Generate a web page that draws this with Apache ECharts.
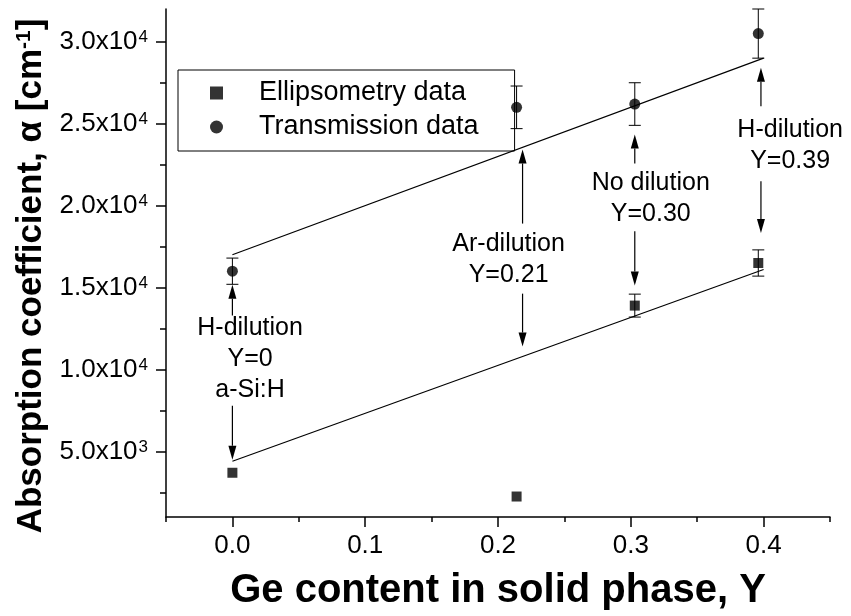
<!DOCTYPE html>
<html>
<head>
<meta charset="utf-8">
<script src="https://cdn.jsdelivr.net/npm/echarts@6/dist/echarts.min.js"></script>
<style>
  html, body { margin: 0; padding: 0; background: #fff; }
  #chart { width: 851px; height: 616px; }
</style>
</head>
<body>
<div id="chart"></div>
<script>
// Ge content Y of each sample
const geContent = [0, 0.214, 0.303, 0.396];
// Ellipsometry absorption coefficient and its error (cm^-1)
const ellipsometry = [3700, 2250, 13900, 16500];
const ellipsometryErr = [0, 0, 700, 800];
// Transmission absorption coefficient and its error (cm^-1)
const transmission = [16000, 26000, 26200, 30500];
const transmissionErr = [800, 1300, 1300, 1500];
// Linear fits (end points)
const fitX = [0, 0.4];
const fitTransmission = [17000, 29000];
const fitEllipsometry = [4400, 16100];
// Axis ticks
const xTickValues = [0, 0.1, 0.2, 0.3, 0.4];
const xMinorTickValues = [-0.05, 0.05, 0.15, 0.25, 0.35, 0.45];
const yTickValues = [5000, 10000, 15000, 20000, 25000, 30000];
const yMinorTickValues = [2500, 7500, 12500, 17500, 22500, 27500];
// Sample notes, anchored in data units
const noteTexts = ['H-dilution\nY=0\na-Si:H', 'Ar-dilution\nY=0.21', 'No dilution\nY=0.30', 'H-dilution\nY=0.39'];
const noteX = [0.0133, 0.208, 0.315, 0.42];
const noteY = [10650, 16700, 20450, 23680];
// Arrows: x, start value, tip value
const arrowX = [0, 0, 0.2185, 0.2185, 0.303, 0.303, 0.398, 0.398];
const arrowFrom = [13290, 7795, 18906, 14630, 22570, 18436, 26067, 21488];
const arrowTo = [15180, 4500, 23430, 11400, 24340, 15126, 28411, 18338];

const FONT = "'Liberation Sans', Arial, Helvetica, sans-serif";

// plot area
const GRID = { left: 166, right: 21, top: 9, bottom: 99 };
const PLOT_W = 851 - GRID.left - GRID.right;
const PLOT_H = 616 - GRID.top - GRID.bottom;

function sciLabel(v) {
  const e = Math.floor(Math.log10(v) + 1e-9);
  const m = (v / Math.pow(10, e)).toFixed(1);
  return '{b|' + m + 'x10}{s|' + e + '}';
}

function errorBars(values, errs) {
  return geContent.map((x, i) => [x, values[i], errs[i]]).filter(d => d[2] > 0);
}

function renderErrorBar(params, api) {
  const x = api.value(0), y = api.value(1), e = api.value(2);
  const top = api.coord([x, y + e]);
  const bot = api.coord([x, y - e]);
  const cap = 6;
  const st = { stroke: '#000', lineWidth: 1 };
  return {
    type: 'group',
    children: [
      { type: 'line', shape: { x1: top[0], y1: top[1], x2: bot[0], y2: bot[1] }, style: st },
      { type: 'line', shape: { x1: top[0] - cap, y1: top[1], x2: top[0] + cap, y2: top[1] }, style: st },
      { type: 'line', shape: { x1: bot[0] - cap, y1: bot[1], x2: bot[0] + cap, y2: bot[1] }, style: st }
    ]
  };
}

function renderArrow(params, api) {
  const x = api.value(0);
  const a = api.coord([x, api.value(1)]);
  const b = api.coord([x, api.value(2)]);
  const dir = b[1] < a[1] ? -1 : 1;
  const headLen = 14, headHalf = 4;
  const baseY = b[1] - dir * headLen;
  return {
    type: 'group',
    children: [
      { type: 'line', shape: { x1: a[0], y1: a[1], x2: b[0], y2: baseY }, style: { stroke: '#000', lineWidth: 1.2 } },
      { type: 'polygon', shape: { points: [[b[0], b[1]], [b[0] - headHalf, baseY], [b[0] + headHalf, baseY]] }, style: { fill: '#000' } }
    ]
  };
}

function renderNote(params, api) {
  const p = api.coord([api.value(0), api.value(1)]);
  return {
    type: 'text',
    x: p[0], y: p[1],
    style: {
      text: noteTexts[params.dataIndex],
      fill: '#000',
      fontSize: 25,
      fontFamily: FONT,
      lineHeight: 31,
      align: 'center',
      verticalAlign: 'middle'
    }
  };
}

const axisLine = { show: true, onZero: false, lineStyle: { color: '#000', width: 1.5 } };
const tickStyle = { color: '#000', width: 1.5 };

const option = {
  animation: false,
  backgroundColor: '#fff',
  grid: GRID,
  legend: {
    orient: 'vertical',
    left: 178, top: 70,
    data: ['Ellipsometry data', 'Transmission data'],
    selectedMode: false,
    borderColor: '#000', borderWidth: 1,
    padding: [6, 36, 7, 32],
    itemGap: 0,
    itemWidth: 13, itemHeight: 13,
    textStyle: { fontSize: 27, lineHeight: 34, fontFamily: FONT, color: '#000', padding: [0, 0, 0, 31] }
  },
  xAxis: [
    {
      type: 'value', min: -0.05, max: 0.45, position: 'bottom',
      axisLine: axisLine,
      splitLine: { show: false },
      axisTick: { show: true, customValues: xTickValues, length: 10, lineStyle: tickStyle },
      axisLabel: { customValues: xTickValues, formatter: v => v.toFixed(1), fontSize: 26, fontFamily: FONT, color: '#000', margin: 16 },
      name: 'Ge content in solid phase, Y',
      nameLocation: 'middle', nameGap: 54,
      nameTextStyle: { fontSize: 40, fontWeight: 'bold', fontFamily: FONT, color: '#000' }
    },
    {
      // minor ticks: a top-side axis moved down onto the bottom edge
      type: 'value', min: -0.05, max: 0.45, position: 'top', offset: -PLOT_H,
      axisLine: { show: false, onZero: false },
      splitLine: { show: false },
      axisTick: { show: true, inside: true, customValues: xMinorTickValues, length: 5, lineStyle: tickStyle },
      axisLabel: { show: false }
    }
  ],
  yAxis: [
    {
      type: 'value', min: 1000, max: 32000, position: 'left',
      axisLine: axisLine,
      splitLine: { show: false },
      axisTick: { show: true, customValues: yTickValues, length: 10, lineStyle: tickStyle },
      axisLabel: {
        customValues: yTickValues, formatter: sciLabel, margin: 18,
        rich: {
          b: { fontSize: 26, fontFamily: FONT, color: '#000' },
          s: { fontSize: 17, fontFamily: FONT, color: '#000', verticalAlign: 'top', padding: [0, 0, 0, 1] }
        }
      },
      name: '{t|Absorption coefficient, α [cm}{s|-1}{t|]}',
      nameLocation: 'middle', nameGap: 98, nameRotate: 90,
      nameTextStyle: {
        padding: [0, 26, 0, 0],
        rich: {
          t: { fontSize: 35, fontWeight: 'bold', fontFamily: FONT, color: '#000' },
          s: { fontSize: 21, fontWeight: 'bold', fontFamily: FONT, color: '#000', verticalAlign: 'top' }
        }
      }
    },
    {
      // minor ticks: a right-side axis moved onto the left edge
      type: 'value', min: 1000, max: 32000, position: 'right', offset: -PLOT_W,
      axisLine: { show: false, onZero: false },
      splitLine: { show: false },
      axisTick: { show: true, inside: true, customValues: yMinorTickValues, length: 6, lineStyle: tickStyle },
      axisLabel: { show: false }
    }
  ],
  series: [
    {
      name: 'fitT', type: 'line', symbol: 'none', silent: true,
      data: fitX.map((x, i) => [x, fitTransmission[i]]),
      lineStyle: { color: '#000', width: 1.2 }, z: 2
    },
    {
      name: 'fitE', type: 'line', symbol: 'none', silent: true,
      data: fitX.map((x, i) => [x, fitEllipsometry[i]]),
      lineStyle: { color: '#000', width: 1.2 }, z: 2
    },
    {
      name: 'errT', type: 'custom', renderItem: renderErrorBar, silent: true,
      data: errorBars(transmission, transmissionErr), z: 3
    },
    {
      name: 'errE', type: 'custom', renderItem: renderErrorBar, silent: true,
      data: errorBars(ellipsometry, ellipsometryErr), z: 3
    },
    {
      name: 'Ellipsometry data', type: 'scatter', symbol: 'rect', symbolSize: 10,
      itemStyle: { color: '#000' },
      data: geContent.map((x, i) => [x, ellipsometry[i]]), z: 4
    },
    {
      name: 'Transmission data', type: 'scatter', symbol: 'circle', symbolSize: 11,
      itemStyle: { color: '#000' },
      data: geContent.map((x, i) => [x, transmission[i]]), z: 4
    },
    {
      name: 'arrows', type: 'custom', renderItem: renderArrow, silent: true,
      data: arrowX.map((x, i) => [x, arrowFrom[i], arrowTo[i]]), z: 5
    },
    {
      name: 'notes', type: 'custom', renderItem: renderNote, silent: true, clip: false,
      data: noteX.map((x, i) => [x, noteY[i]]), z: 5
    }
  ]
};

const chart = echarts.init(document.getElementById('chart'), null, { renderer: 'canvas' });
chart.setOption(option);
</script>
</body>
</html>
